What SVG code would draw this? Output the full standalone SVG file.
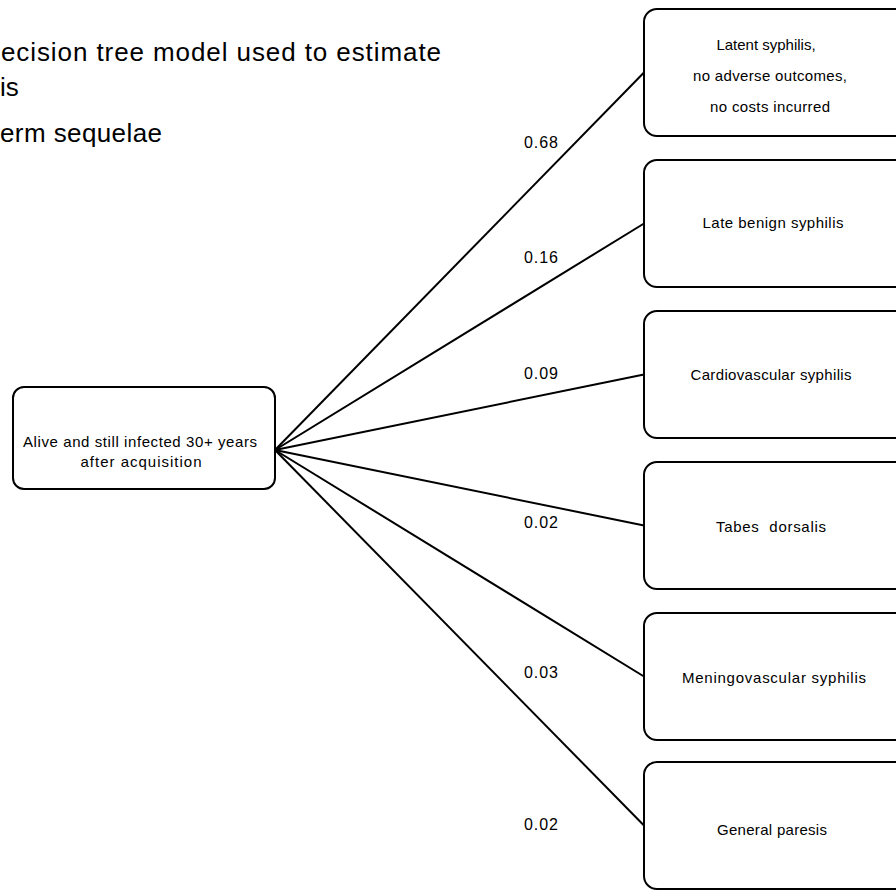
<svg xmlns="http://www.w3.org/2000/svg" width="896" height="892" viewBox="0 0 896 892">
<style>
.box{fill:#fff;stroke:#000;stroke-width:2}
.edge{stroke:#000;stroke-width:2;fill:none}
.t{font-family:"Liberation Sans",Arial,sans-serif;font-size:15px;fill:#000;text-anchor:middle}
.p{font-family:"Liberation Sans",Arial,sans-serif;font-size:16px;fill:#000}
.title{font-family:"Liberation Sans",Arial,sans-serif;font-size:26px;fill:#000}
</style>
<rect width="896" height="892" fill="#fff"/>
<g id="title">
<text class="title" x="1" y="61" textLength="440" lengthAdjust="spacing">ecision tree model used to estimate</text>
<text class="title" x="0" y="96">is</text>
<text class="title" x="0" y="142" textLength="162" lengthAdjust="spacing">erm sequelae</text>
</g>
<g id="connectors">
<line class="edge" x1="275" y1="450" x2="644" y2="72.5"/>
<line class="edge" x1="275" y1="450" x2="644" y2="223.5"/>
<line class="edge" x1="275" y1="450" x2="644" y2="374.5"/>
<line class="edge" x1="275" y1="450" x2="644" y2="525.5"/>
<line class="edge" x1="275" y1="450" x2="644" y2="676.5"/>
<line class="edge" x1="275" y1="450" x2="644" y2="825.5"/>
<text class="p" x="524" y="148" textLength="34" lengthAdjust="spacing">0.68</text>
<text class="p" x="524" y="263" textLength="34" lengthAdjust="spacing">0.16</text>
<text class="p" x="524" y="379" textLength="34" lengthAdjust="spacing">0.09</text>
<text class="p" x="524" y="528" textLength="34" lengthAdjust="spacing">0.02</text>
<text class="p" x="524" y="678" textLength="34" lengthAdjust="spacing">0.03</text>
<text class="p" x="524" y="830" textLength="34" lengthAdjust="spacing">0.02</text>
</g>
<g id="root">
<rect class="box" x="13" y="387" width="262" height="102" rx="11"/>
<text class="t" x="140" y="447" textLength="234" lengthAdjust="spacing">Alive and still infected 30+ years</text>
<text class="t" x="141" y="467" textLength="121" lengthAdjust="spacing">after acquisition</text>
</g>
<g id="latent">
<rect class="box" x="644" y="9" width="266" height="127" rx="13"/>
<text class="t" x="766" y="50">Latent syphilis,</text>
<text class="t" x="770" y="81" textLength="154" lengthAdjust="spacing">no adverse outcomes,</text>
<text class="t" x="770" y="112" textLength="120" lengthAdjust="spacing">no costs incurred</text>
</g>
<g id="late-benign">
<rect class="box" x="644" y="160" width="266" height="127" rx="13"/>
<text class="t" x="773" y="228" textLength="141" lengthAdjust="spacing">Late benign syphilis</text>
</g>
<g id="cardiovascular">
<rect class="box" x="644" y="311" width="266" height="127" rx="13"/>
<text class="t" x="771" y="380" textLength="161" lengthAdjust="spacing">Cardiovascular syphilis</text>
</g>
<g id="tabes">
<rect class="box" x="644" y="462" width="266" height="127" rx="13"/>
<text class="t" x="771" y="532" textLength="110" lengthAdjust="spacing" xml:space="preserve">Tabes  dorsalis</text>
</g>
<g id="meningovascular">
<rect class="box" x="644" y="613" width="266" height="127" rx="13"/>
<text class="t" x="774" y="683" textLength="184" lengthAdjust="spacing">Meningovascular syphilis</text>
</g>
<g id="general-paresis">
<rect class="box" x="644" y="762" width="266" height="127" rx="13"/>
<text class="t" x="772" y="835" textLength="110" lengthAdjust="spacing">General paresis</text>
</g>
</svg>
